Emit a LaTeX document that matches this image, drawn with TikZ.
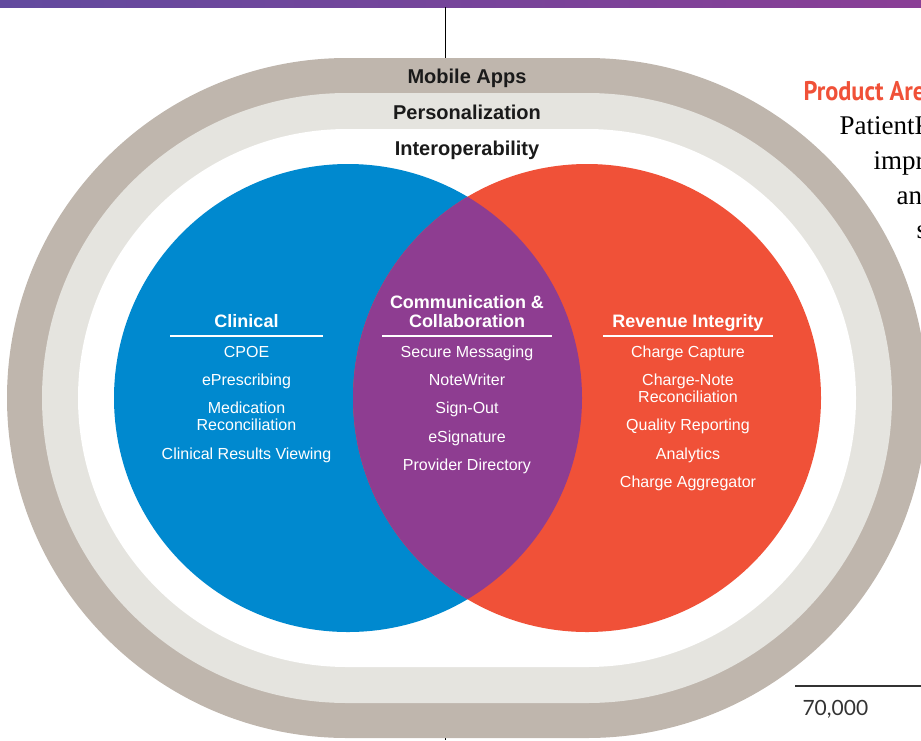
\documentclass[tikz,border=0pt]{standalone}
\usepackage{fontspec}
\setmainfont{Liberation Sans}
\newfontfamily\bodyserif{Liberation Serif}
\newfontfamily\headsans[FakeStretch=0.9]{PT Sans}
\newfontfamily\figsans{Lato}
\usetikzlibrary{positioning}
\definecolor{clinblue}{HTML}{0089CF}
\definecolor{revred}{HTML}{F05138}
\definecolor{commpurple}{HTML}{8E3D91}
\definecolor{ringtan}{HTML}{BFB6AD}
\definecolor{ringlight}{HTML}{E5E4DF}
\definecolor{ringtext}{HTML}{1A1A1A}
\definecolor{barleft}{HTML}{624A9E}
\definecolor{barright}{HTML}{8A3F96}
\definecolor{pagetext}{HTML}{333333}
\tikzset{
  ringlabel/.style={font=\fontsize{20}{22}\selectfont\bfseries, text=ringtext, anchor=base},
  areahead/.style={font=\fontsize{18}{19}\selectfont\bfseries, text=white, align=center, inner sep=0pt},
  areaitem/.style={font=\fontsize{16}{17}\selectfont, text=white, align=center, inner sep=0pt},
  arearule/.style={fill=white, inner sep=0pt, minimum height=1.5pt},
  pageline/.style={anchor=base west, font=\bodyserif\fontsize{27}{34}\selectfont, text=black},
}
\begin{document}
\begin{tikzpicture}[x=1pt, y=-1pt]
\useasboundingbox (0,0) rectangle (921,740);
% page furniture
\shade[left color=barleft, right color=barright] (0,0) rectangle (921,7);
\draw[black, line width=0.8pt] (445,7) -- (445,740);
% rings
\fill[ringtan, rounded corners=340pt] (7,58) rectangle (927,738);
\fill[ringlight, rounded corners=305pt] (42,93) rectangle (892,703);
\fill[white, rounded corners=269pt] (78,129) rectangle (856,667);
\node (mobile) [ringlabel] at (467,83) {Mobile Apps};
\node (personal) [ringlabel] at (467,119) {Personalization};
\node (interop) [ringlabel] at (467,155) {Interoperability};
% circles
\node (clincircle) [circle, fill=clinblue, minimum size=468pt, inner sep=0pt] at (348,398) {};
\node (revcircle) [circle, fill=revred, minimum size=468pt, inner sep=0pt] at (587,398) {};
\begin{scope}
\clip (348,398) circle[radius=234pt];
\fill[commpurple] (587,398) circle[radius=234pt];
\end{scope}
% clinical
\node (clinrule) [arearule, minimum width=153pt] at (246.5,336) {};
\node (clinhead) [areahead, above=2pt of clinrule] {\strut Clinical};
\node (cpoe) [areaitem, below=8pt of clinrule] {\strut CPOE};
\node (erx) [areaitem, below=11pt of cpoe] {\strut ePrescribing};
\node (medrec) [areaitem, below=11pt of erx] {\strut Medication\\\strut Reconciliation};
\node (results) [areaitem, below=11pt of medrec] {\strut Clinical Results Viewing};
% communication
\node (commrule) [arearule, minimum width=170pt] at (467,336) {};
\node (commhead) [areahead, above=2pt of commrule] {\strut Communication \&\\\strut Collaboration};
\node (secmsg) [areaitem, below=8pt of commrule] {\strut Secure Messaging};
\node (notewr) [areaitem, below=11pt of secmsg] {\strut NoteWriter};
\node (signout) [areaitem, below=11pt of notewr] {\strut Sign-Out};
\node (esign) [areaitem, below=11pt of signout] {\strut eSignature};
\node (provdir) [areaitem, below=11pt of esign] {\strut Provider Directory};
% revenue
\node (revrule) [arearule, minimum width=170pt] at (688,336) {};
\node (revhead) [areahead, above=2pt of revrule] {\strut Revenue Integrity};
\node (chcap) [areaitem, below=8pt of revrule] {\strut Charge Capture};
\node (chnote) [areaitem, below=11pt of chcap] {\strut Charge-Note\\\strut Reconciliation};
\node (quality) [areaitem, below=11pt of chnote] {\strut Quality Reporting};
\node (analytics) [areaitem, below=11pt of quality] {\strut Analytics};
\node (chagg) [areaitem, below=11pt of analytics] {\strut Charge Aggregator};
% page text
\node (prodhead) [anchor=base west, font=\headsans\fontsize{27}{28}\selectfont\bfseries, text=revred] at (800,100) {Product Are};
\node (linea) [pageline] at (836,134) {PatientK};
\node (lineb) [pageline] at (870,169) {impr};
\node (linec) [pageline] at (893,204) {and};
\node (lined) [pageline] at (913,238) {s};
\coordinate (figl) at (795,686);
\coordinate (figr) at (921,686);
\draw[pagetext, line width=2pt] (figl) -- (figr);
\node (figval) [anchor=base west, font=\figsans\fontsize{21}{22}\selectfont, text=pagetext] at (799,715) {70,000};
\end{tikzpicture}
\end{document}
